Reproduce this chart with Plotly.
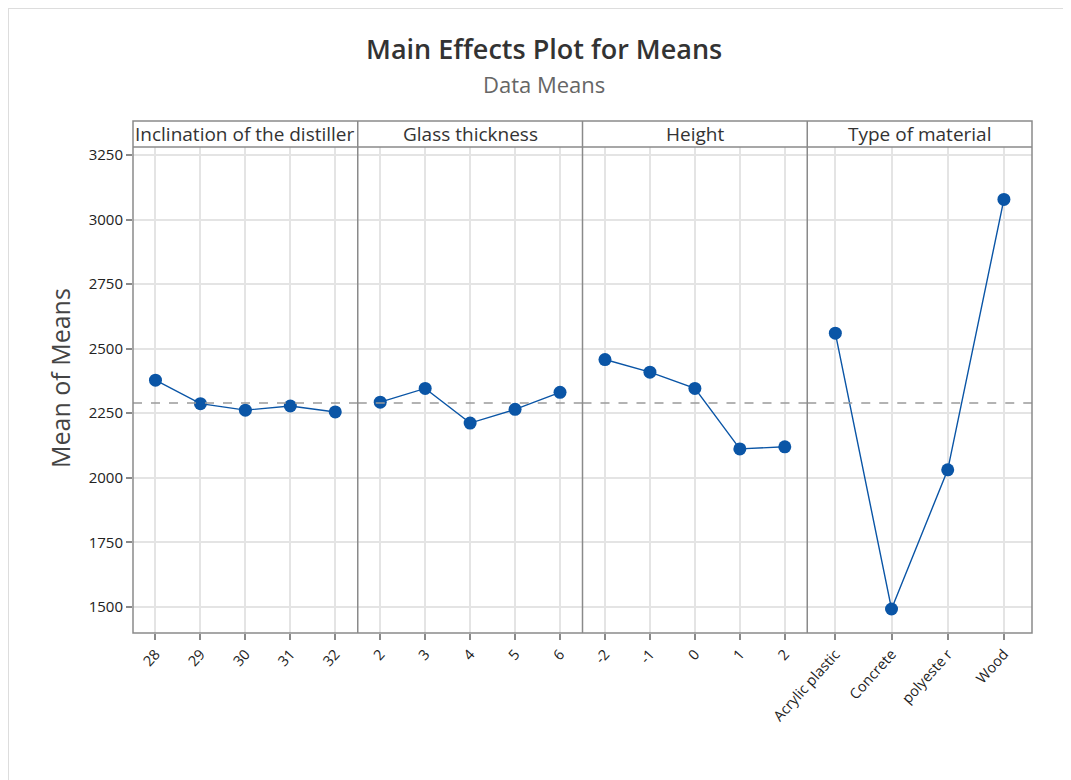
import plotly.graph_objects as go

# ---- data ----
factors = ["Inclination of the distiller", "Glass thickness", "Height", "Type of material"]
inclination_levels = ["28", "29", "30", "31", "32"]
inclination_means = [2378, 2287, 2262, 2278, 2255]
glass_levels = ["2", "3", "4", "5", "6"]
glass_means = [2293, 2346, 2212, 2265, 2331]
height_levels = ["-2", "-1", "0", "1", "2"]
height_means = [2458, 2409, 2346, 2112, 2120]
material_levels = ["Acrylic plastic", "Concrete", "polyeste r", "Wood"]
material_means = [2560, 1492, 2031, 3078]
overall_mean = 2290
y_ticks = [1500, 1750, 2000, 2250, 2500, 2750, 3000, 3250]

panels = [
    (inclination_levels, inclination_means),
    (glass_levels, glass_means),
    (height_levels, height_means),
    (material_levels, material_means),
]

# ---- geometry (page has an 8px body margin, so shift everything by -8) ----
OFF = 8
W, H = 1071 - OFF, 780 - OFF
L, R, T, B = 133 - OFF, 1032 - OFF, 121 - OFF, 633 - OFF
ph = B - T
header_h = 26
ydom_top = (ph - header_h) / ph

FONT = "Open Sans, Noto Sans, sans-serif"
BLUE = "#0a55a6"
AXC = "#8a8a8a"
GRID = "#e4e4e4"


def px(xp):
    return (xp - OFF - L) / (R - L)


def py(yp):
    return (B - (yp - OFF)) / ph


fig = go.Figure()
n = len(panels)
for i, (levels, means) in enumerate(panels):
    sfx = "" if i == 0 else str(i + 1)
    fig.add_trace(go.Scatter(
        x=list(range(len(levels))), y=means,
        mode="lines+markers",
        line=dict(color=BLUE, width=1.4),
        marker=dict(color=BLUE, size=13, symbol="circle"),
        xaxis="x" + sfx, yaxis="y" + sfx,
        showlegend=False, hoverinfo="x+y",
    ))
    d0, d1 = i / n, (i + 1) / n
    fig.layout["xaxis" + sfx] = dict(
        domain=[d0, d1], anchor="y" + sfx,
        range=[-0.5, len(levels) - 0.5],
        tickmode="array", tickvals=list(range(len(levels))), ticktext=levels,
        tickangle=-48, tickfont=dict(family=FONT, size=14.5, color="#222"),
        ticks="outside", ticklen=6, tickcolor=AXC, tickwidth=1.5,
        showgrid=True, gridcolor=GRID, gridwidth=1.5,
        showline=False, zeroline=False, fixedrange=True,
    )
    fig.layout["yaxis" + sfx] = dict(
        domain=[0, ydom_top], anchor="x" + sfx,
        range=[1399, 3281],
        tickmode="array", tickvals=y_ticks,
        showticklabels=(i == 0),
        ticks="outside" if i == 0 else "", ticklen=6, tickcolor=AXC, tickwidth=1.5,
        tickfont=dict(family=FONT, size=15, color="#222"),
        showgrid=True, gridcolor=GRID, gridwidth=1.5,
        showline=False, zeroline=False, fixedrange=True,
    )
    # header label
    fig.add_annotation(x=(d0 + d1) / 2, y=(ydom_top + 1) / 2, xref="paper", yref="paper",
                       text=factors[i], showarrow=False,
                       font=dict(family=FONT, size=19, color="#333"),
                       xanchor="center", yanchor="middle")
    # overall mean reference line
    fig.add_shape(type="line", xref="x" + sfx + " domain", yref="y" + sfx,
                  x0=0, x1=1, y0=overall_mean, y1=overall_mean,
                  line=dict(color="#9a9a9a", width=1.5, dash="dash"), layer="above")
    # panel divider
    if i > 0:
        fig.add_shape(type="line", xref="paper", yref="paper",
                      x0=d0, x1=d0, y0=0, y1=1,
                      line=dict(color=AXC, width=1.5), layer="above")

# outer frame and header bottom line
fig.add_shape(type="rect", xref="paper", yref="paper", x0=0, x1=1, y0=0, y1=1,
              line=dict(color=AXC, width=1.5), layer="above")
fig.add_shape(type="line", xref="paper", yref="paper", x0=0, x1=1,
              y0=ydom_top, y1=ydom_top, line=dict(color=AXC, width=1.5), layer="above")

# titles
fig.add_annotation(x=px(544), y=py(48), xref="paper", yref="paper",
                   text="Main Effects Plot for Means", showarrow=False,
                   font=dict(family=FONT, size=27, color="#333", weight=600),
                   xanchor="center", yanchor="middle")
fig.add_annotation(x=px(544), y=py(84), xref="paper", yref="paper",
                   text="Data Means", showarrow=False,
                   font=dict(family=FONT, size=22, color="#666"),
                   xanchor="center", yanchor="middle")
fig.add_annotation(x=px(60), y=py(378), xref="paper", yref="paper",
                   text="Mean of Means", showarrow=False, textangle=-90,
                   font=dict(family=FONT, size=25, color="#444"),
                   xanchor="center", yanchor="middle")

# outer light frame of the image
fig.add_shape(type="line", xref="paper", yref="paper",
              x0=px(8), x1=px(1071), y0=py(8), y1=py(8),
              line=dict(color="#dddddd", width=2))
fig.add_shape(type="line", xref="paper", yref="paper",
              x0=px(8), x1=px(8), y0=py(8), y1=py(780),
              line=dict(color="#dddddd", width=2))

fig.update_layout(
    width=W, height=H,
    margin=dict(l=L, r=W - R, t=T, b=H - B, pad=0),
    paper_bgcolor="white", plot_bgcolor="white",
    font=dict(family=FONT),
)

fig.write_html("out.html")
